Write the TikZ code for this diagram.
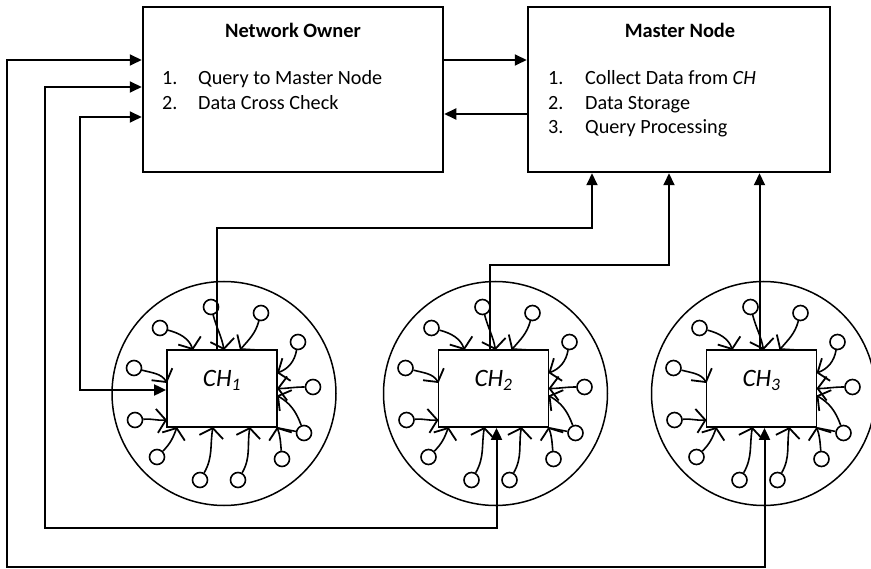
\documentclass[tikz,border=0pt]{standalone}
\usepackage{fontspec}
\setmainfont{Carlito}
\usetikzlibrary{arrows.meta,calc}

\tikzset{
  mainbox/.style={draw, line width=2.5pt, rectangle, inner sep=0pt, minimum height=165pt},
  chbox/.style={draw, line width=1.8pt, rectangle, inner sep=0pt, minimum width=110pt, minimum height=77pt},
  chlabel/.style={inner sep=0pt, font=\fontsize{25}{29}\selectfont\itshape},
  title/.style={inner sep=0pt, anchor=base, font=\fontsize{20.4}{24}\selectfont\bfseries},
  item/.style={inner sep=0pt, anchor=base west, font=\fontsize{20.2}{24}\selectfont},
  link/.style={line width=2pt, -{Triangle[length=12pt,width=11pt]}},
  twoway/.style={line width=2pt, {Triangle[length=12pt,width=11pt]}-{Triangle[length=12pt,width=11pt]}},
  zone/.style={draw, circle, line width=1.5pt, minimum size=224pt, inner sep=0pt},
  sensor/.style={draw, circle, line width=1.6pt, minimum size=15pt, inner sep=0pt},
  vhead/.tip={Straight Barb[length=9pt,width=24pt,line width=1.8pt]},
  feed/.style={line width=1.6pt, -vhead},
  plain/.style={line width=1.5pt}
}

% one cluster: #1 node name, #2 centre x, #3 index printed in the label
\newcommand\cluster[3]{%
  \begin{scope}[shift={(#2,-388.5)}]
    \node[zone] (#1z) at (2,-5) {};
    \node[chbox] (#1) at (0,0) {};
    \node[chlabel] (#1t) at (0,8) {CH\textsubscript{#3}};
    \foreach \cx/\cy/\ex/\ey/\ao/\ai [count=\k] in {
      -62/60.5/-29/38.5/-15/110,
      -11/81.5/2/38.5/-75/100,
      39/75.5/18/38.5/-105/50,
      76/46.5/55/15.5/-100/20,
      91/1.5/55/0/180/0,
      82/-44.5/55/-7/110/-30,
      60/-70.5/55/-38.5/95/-70,
      16/-91.5/28/-38.5/60/-100,
      -22/-91.5/-9/-38.5/60/-100,
      -65/-68.5/-45/-38.5/45/-110,
      -87/-31.5/-55/-31.5/5/185,
      -88/20.5/-55/5.5/-15/120}
    {
      \node[sensor] (#1s\k) at (\cx,\cy) {};
      \coordinate (#1e\k) at (\ex,\ey);
      \draw[feed] (#1s\k) to[out=\ao,in=\ai] (#1e\k);
    }
    \draw[plain] (#1.south east) -- (#1s6);
  \end{scope}}

\begin{document}
\begin{tikzpicture}[x=1pt,y=1pt]
  \useasboundingbox (0,0) rectangle (871,-569);

  % top boxes
  \node[mainbox, minimum width=300pt] (no) at (293,-89.5) {};
  \node[mainbox, minimum width=302pt] (mn) at (679,-89.5) {};

  \node[title] (not) at (293,-38) {Network Owner};
  \node[item] (no1n) at (162,-85) {1.};
  \node[item] (no1) at (198,-85) {Query to Master Node};
  \node[item] (no2n) at (162,-109.5) {2.};
  \node[item] (no2) at (198,-109.5) {Data Cross Check};

  \node[title] (mnt) at (680,-38) {Master Node};
  \node[item] (mn1n) at (548,-85) {1.};
  \node[item] (mn1) at (585,-85) {Collect Data from \textit{CH}};
  \node[item] (mn2n) at (548,-109.5) {2.};
  \node[item] (mn2) at (585,-109.5) {Data Storage};
  \node[item] (mn3n) at (548,-134) {3.};
  \node[item] (mn3) at (585,-134) {Query Processing};

  % clusters
  \cluster{ch1}{222}{1}
  \cluster{ch2}{493.5}{2}
  \cluster{ch3}{761.5}{3}

  % links between the two top boxes
  \draw[link] (no.east |- 0,-60) -- (mn.west |- 0,-60);
  \draw[link] (mn.west |- 0,-114) -- (no.east |- 0,-114);

  % network owner to cluster heads
  \draw[twoway] (no.west |- 0,-60) -| (7,-567) -| ([xshift=3pt]ch3.south);
  \draw[twoway] (no.west |- 0,-87) -| (45,-528) -| ([xshift=3pt]ch2.south);
  \draw[twoway] (no.west |- 0,-117) -| (80,-390) -- (ch1.west |- 0,-390);

  % cluster heads up to the master node
  \draw[link] ([xshift=-5pt]ch1.north) |- (592,-228) -- (mn.south -| 592,0);
  \draw[link] ([xshift=-4pt]ch2.north) |- (669,-265) -- (mn.south -| 669,0);
  \draw[link] ([xshift=-2pt]ch3.north) -- ([xshift=-2pt]ch3.north |- mn.south);
\end{tikzpicture}
\end{document}
